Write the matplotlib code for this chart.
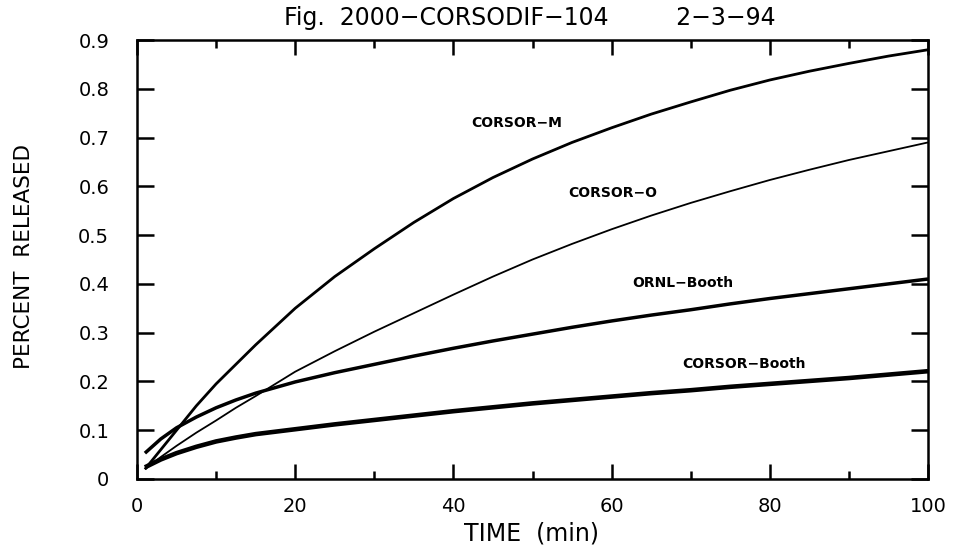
import matplotlib
matplotlib.use("Agg")
import matplotlib.pyplot as plt
from matplotlib.ticker import MultipleLocator, FuncFormatter

# ---- data ----
t = [1, 3, 5, 7.5, 10, 12.5, 15, 20, 25, 30, 35, 40, 45, 50, 55, 60, 65, 70, 75, 80,
     85, 90, 95, 100]
corsor_m = [0.02, 0.06, 0.10, 0.15, 0.195, 0.235, 0.275, 0.35, 0.415, 0.472, 0.526,
            0.575, 0.618, 0.656, 0.69, 0.72, 0.748, 0.773, 0.797, 0.818, 0.836, 0.852,
            0.867, 0.88]
corsor_o = [0.02, 0.045, 0.068, 0.095, 0.12, 0.146, 0.17, 0.22, 0.262, 0.302, 0.34,
            0.378, 0.415, 0.45, 0.482, 0.512, 0.54, 0.566, 0.59, 0.613, 0.634, 0.654,
            0.672, 0.69]
ornl_booth = [0.053, 0.082, 0.105, 0.127, 0.146, 0.162, 0.176, 0.199, 0.218, 0.235,
              0.252, 0.268, 0.283, 0.297, 0.311, 0.324, 0.336, 0.347, 0.359, 0.37,
              0.38, 0.39, 0.40, 0.41]
corsor_booth = [0.024, 0.04, 0.053, 0.066, 0.077, 0.085, 0.092, 0.102, 0.112, 0.121,
                0.13, 0.139, 0.147, 0.155, 0.162, 0.169, 0.176, 0.182, 0.189, 0.195,
                0.201, 0.207, 0.214, 0.221]

series_names = ["CORSOR\u2212M", "CORSOR\u2212O", "ORNL\u2212Booth", "CORSOR\u2212Booth"]
label_x = [48, 60.1, 69, 76.7]
label_y = [0.729, 0.586, 0.402, 0.236]

title_text = "Fig.  2000\u2212CORSODIF\u2212104         2\u22123\u221294"
x_label = "TIME  (min)"
y_label = "PERCENT  RELEASED"

# ---- figure ----
plt.rcParams['font.family'] = ['DejaVu Sans']
W, H = 956, 552
fig = plt.figure(figsize=(W / 100, H / 100), dpi=100)
L, R, T, B = 137, 928, 40, 479
ax = fig.add_axes([L / W, 1 - B / H, (R - L) / W, (B - T) / H])

ax.plot(t, corsor_m, color='black', lw=2.0, solid_capstyle='butt')
ax.plot(t, corsor_o, color='black', lw=1.3, solid_capstyle='butt')
ax.plot(t, ornl_booth, color='black', lw=2.5, solid_capstyle='butt')
ax.plot(t, corsor_booth, color='black', lw=3.3, solid_capstyle='butt')

for name, lx, ly in zip(series_names, label_x, label_y):
    ax.text(lx, ly, name, ha='center', va='center', fontsize=10, fontweight='bold')

ax.set_xlim(0, 100)
ax.set_ylim(0, 0.9)
ax.xaxis.set_major_locator(MultipleLocator(20))
ax.xaxis.set_minor_locator(MultipleLocator(10))
ax.yaxis.set_major_locator(MultipleLocator(0.1))
ax.yaxis.set_major_formatter(FuncFormatter(lambda v, p: "0" if abs(v) < 1e-9 else f"{v:.1f}"))
ax.xaxis.set_major_formatter(FuncFormatter(lambda v, p: f"{v:.0f}"))

for s in ax.spines.values():
    s.set_linewidth(1.8)

ax.tick_params(axis='x', which='both', direction='in', top=True, bottom=True,
               width=1.8, labelsize=14, pad=13)
ax.tick_params(axis='x', which='major', length=11)
ax.tick_params(axis='x', which='minor', length=5.5)
ax.tick_params(axis='y', which='major', direction='in', left=True, right=True,
               width=1.8, length=12, labelsize=14, pad=20)

ax.set_xlabel(x_label, fontsize=17)
ax.xaxis.label.set_verticalalignment('center')
ax.xaxis.set_label_coords((532 - L) / (R - L), (B - 533) / (B - T))
ax.set_ylabel(y_label, fontsize=15.5)
ax.yaxis.label.set_verticalalignment('center')
ax.yaxis.set_label_coords((24 - L) / (R - L), (B - 257) / (B - T))

ax.set_title(title_text, fontsize=17, x=(530 - L) / (R - L), y=(B - 25) / (B - T),
             va='baseline', pad=0)

fig.savefig("out.png", dpi=100, facecolor='white')
